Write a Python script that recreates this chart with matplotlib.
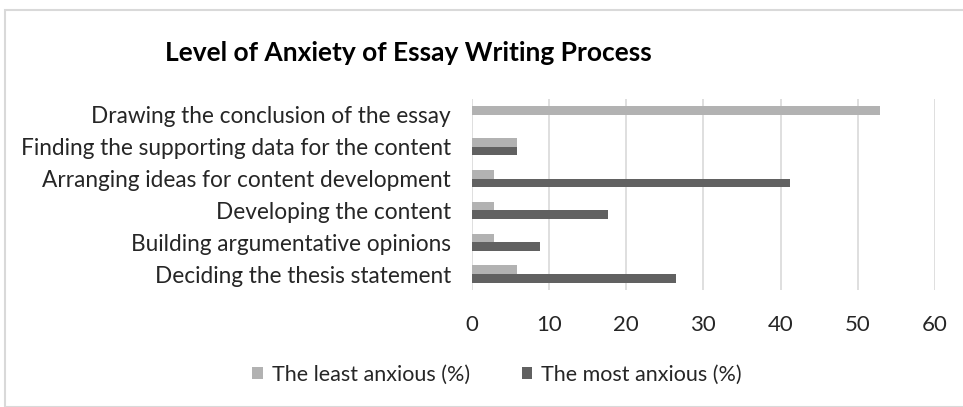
import matplotlib.pyplot as plt
import matplotlib.patches as mpatches
import numpy as np

plt.rcParams['font.family'] = ['Lato', 'DejaVu Sans']

# categories, bottom to top as drawn
categories = [
    'Deciding the thesis statement',
    'Building argumentative opinions',
    'Developing the content',
    'Arranging ideas for content development',
    'Finding the supporting data for the content',
    'Drawing the conclusion of the essay',
]
least_anxious = [5.9, 2.9, 2.9, 2.9, 5.9, 52.9]
most_anxious = [26.5, 8.8, 17.6, 41.2, 5.9, 0.0]
x_ticks = [0, 10, 20, 30, 40, 50, 60]

LIGHT = '#b2b2b2'
DARK = '#616161'

W, H = 963, 407
fig = plt.figure(figsize=(W / 100, H / 100), dpi=100)

# outer chart border (continues past right and bottom edges)
fig.patches.append(mpatches.Rectangle((5 / W, 0), 1, 1 - 10 / H, transform=fig.transFigure,
                                      fill=False, edgecolor='#d9d9d9', linewidth=1.5))

ax = fig.add_axes([471.7 / W, 1 - 290 / H, (935 - 471.7) / W, (290 - 99) / H])

y = np.arange(len(categories))
h = 0.27
ax.barh(y + h / 2, least_anxious, height=h, color=LIGHT, label='The least anxious (%)', zorder=3)
ax.barh(y - h / 2, most_anxious, height=h, color=DARK, label='The most anxious (%)', zorder=3)

ax.set_xlim(0, 60)
ax.set_ylim(-0.5, len(categories) - 0.5)
ax.set_xticks(x_ticks)
ax.set_yticks(y)
ax.set_yticklabels(categories)
ax.tick_params(axis='y', length=0, pad=15, labelsize=16.3, labelcolor='#262626')
ax.tick_params(axis='x', length=0, pad=18, labelsize=16, labelcolor='#262626')
ax.grid(axis='x', color='#d9d9d9', linewidth=1.2, zorder=0)
for s in ax.spines.values():
    s.set_visible(False)

fig.text(165 / W, 1 - 53 / H, 'Level of Anxiety of Essay Writing Process', fontsize=19,
         fontweight='bold', va='center', ha='left', color='black')

fig.legend(loc='center', bbox_to_anchor=(497 / W, 1 - 375 / H), ncol=2, frameon=False,
           fontsize=15.5, handlelength=0.5, handleheight=0.5, handletextpad=0.4,
           columnspacing=2.4, labelcolor='#262626')

fig.savefig('out.png', dpi=100)
